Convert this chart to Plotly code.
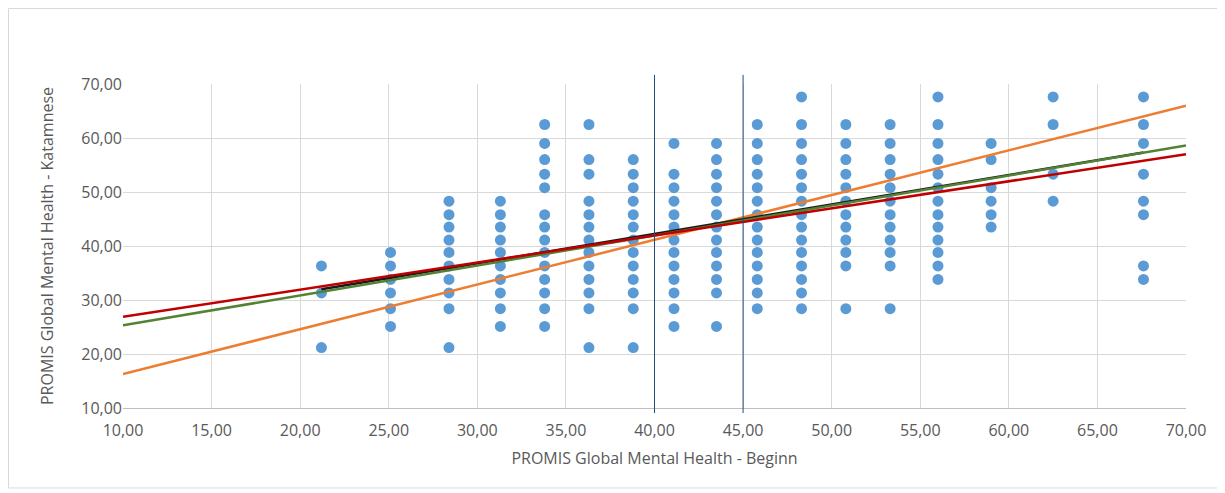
import plotly.graph_objects as go

# PROMIS T-score levels observed at baseline (x) and their follow-up values (y)
x_levels = [21.2, 25.1, 28.4, 31.3, 33.8, 36.3, 38.8, 41.1, 43.5, 45.8,
            48.3, 50.8, 53.3, 56.0, 59.0, 62.5, 67.6]
y_by_level = [
    [36.3, 31.3, 21.2],
    [38.8, 36.3, 33.8, 31.3, 28.4, 25.1],
    [48.3, 45.8, 43.5, 41.1, 38.8, 36.3, 33.8, 31.3, 28.4, 21.2],
    [48.3, 45.8, 43.5, 41.1, 38.8, 36.3, 33.8, 31.3, 28.4, 25.1],
    [62.5, 59.0, 56.0, 53.3, 50.8, 45.8, 43.5, 41.1, 38.8, 36.3, 33.8, 31.3, 28.4, 25.1],
    [62.5, 56.0, 53.3, 48.3, 45.8, 43.5, 41.1, 38.8, 36.3, 33.8, 31.3, 28.4, 21.2],
    [56.0, 53.3, 50.8, 48.3, 45.8, 43.5, 41.1, 38.8, 36.3, 33.8, 31.3, 28.4, 21.2],
    [59.0, 53.3, 50.8, 48.3, 45.8, 43.5, 41.1, 38.8, 36.3, 33.8, 31.3, 28.4, 25.1],
    [59.0, 56.0, 53.3, 50.8, 48.3, 45.8, 43.5, 41.1, 38.8, 36.3, 33.8, 31.3, 25.1],
    [62.5, 59.0, 56.0, 53.3, 50.8, 48.3, 45.8, 43.5, 41.1, 38.8, 36.3, 33.8, 31.3, 28.4],
    [67.6, 62.5, 59.0, 56.0, 53.3, 50.8, 48.3, 45.8, 43.5, 41.1, 38.8, 36.3, 33.8, 31.3, 28.4],
    [62.5, 59.0, 56.0, 53.3, 50.8, 48.3, 45.8, 43.5, 41.1, 38.8, 36.3, 28.4],
    [62.5, 59.0, 56.0, 53.3, 50.8, 48.3, 45.8, 43.5, 41.1, 38.8, 36.3, 28.4],
    [67.6, 62.5, 59.0, 56.0, 53.3, 50.8, 48.3, 45.8, 43.5, 41.1, 38.8, 36.3, 33.8],
    [59.0, 56.0, 50.8, 48.3, 45.8, 43.5],
    [67.6, 62.5, 53.3, 48.3],
    [67.6, 62.5, 59.0, 53.3, 48.3, 45.8, 36.3, 33.8],
]

# Reference / regression lines (endpoints)
orange_x = [10, 70]
orange_y = [16.3, 66.0]
green_x = [10, 70]
green_y = [25.3, 58.6]
red_x = [10, 70]
red_y = [26.9, 57.0]
black_x = [21.2, 67.6]
black_y = [32.0, 57.3]

# Vertical marker lines
vlines_x = [40, 45]

x_ticks = [10, 15, 20, 25, 30, 35, 40, 45, 50, 55, 60, 65, 70]
y_ticks = [10, 20, 30, 40, 50, 60, 70]

xs, ys = [], []
for xv, yl in zip(x_levels, y_by_level):
    for yv in yl:
        xs.append(xv)
        ys.append(yv)

fig = go.Figure()
fig.add_trace(go.Scatter(x=xs, y=ys, mode="markers",
                         marker=dict(color="#5B9BD5", size=11), showlegend=False))
fig.add_trace(go.Scatter(x=orange_x, y=orange_y, mode="lines",
                         line=dict(color="#ED7D31", width=2.5), showlegend=False))
fig.add_trace(go.Scatter(x=black_x, y=black_y, mode="lines",
                         line=dict(color="#1a1a1a", width=2.5), showlegend=False))
fig.add_trace(go.Scatter(x=green_x, y=green_y, mode="lines",
                         line=dict(color="#548235", width=2.5), showlegend=False))
fig.add_trace(go.Scatter(x=red_x, y=red_y, mode="lines",
                         line=dict(color="#C00000", width=2.5), showlegend=False))

for vx in vlines_x:
    fig.add_shape(type="line", xref="x", yref="paper", x0=vx, x1=vx,
                  y0=-0.0154, y1=1.028, line=dict(color="#1F4E79", width=1))

# outer chart border
fig.add_shape(type="rect", xref="paper", yref="paper",
              x0=-0.1077, x1=1.0311, y0=-0.2469, y1=1.233,
              line=dict(color="#D9D9D9", width=1))

font = dict(family="Open Sans, Liberation Sans, Arial", size=16, color="#595959")

fig.update_layout(
    width=1225, height=493,
    margin=dict(l=115, r=47, t=76, b=93),
    paper_bgcolor="white", plot_bgcolor="white",
    separators=",.",
    font=font,
    xaxis=dict(range=[10, 70], tickvals=x_ticks, tickformat=".2f",
               showgrid=True, gridcolor="#D9D9D9", gridwidth=1,
               zeroline=False, showline=True, linecolor="#BFBFBF",
               ticks="", ticklen=0, ticklabelstandoff=8,
               title=dict(text="PROMIS Global Mental Health - Beginn",
                          font=dict(size=16, color="#595959"), standoff=12),
               tickfont=dict(size=16, color="#595959")),
    yaxis=dict(range=[10, 70], tickvals=y_ticks, tickformat=".2f",
               showgrid=True, gridcolor="#D9D9D9", gridwidth=1,
               zeroline=False, showline=False,
               title=dict(text="PROMIS Global Mental Health - Katamnese",
                          font=dict(size=16, color="#595959"), standoff=23),
               tickfont=dict(size=16, color="#595959")),
)

fig.write_html("out.html")
